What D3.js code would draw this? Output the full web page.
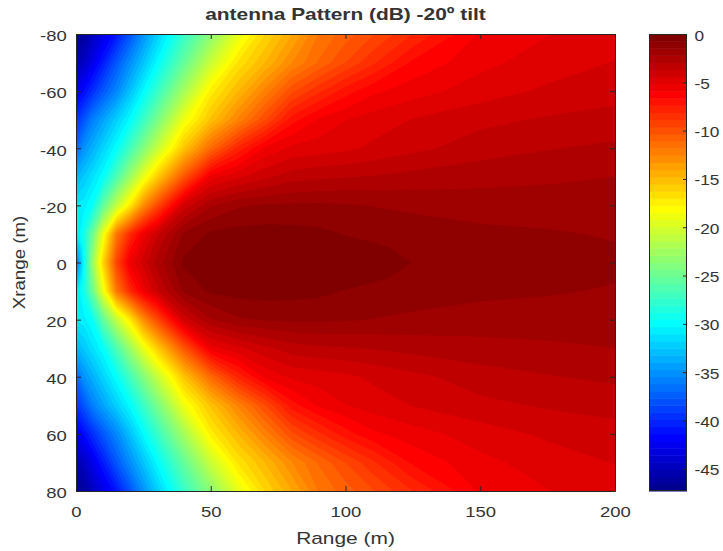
<!DOCTYPE html>
<html>
<head>
<meta charset="utf-8">
<script src="https://cdn.jsdelivr.net/npm/d3@7"></script>
<style>
  body { margin: 0; background: #fff; }
  text { font-family: "Liberation Sans", Arial, Helvetica, sans-serif; fill: #333; }
  .axis path, .axis line { stroke: #262626; }
</style>
</head>
<body>
<script>
// grid: columns = Range (m), rows = Xrange (m), values in dB
var rangeCols = [0, 3, 6, 10, 15, 20, 25, 30, 40, 50, 60, 70, 80, 90, 100, 110, 125, 150, 175, 200];
var xrangeRows = [-80, -70, -60, -50, -40, -30, -20, -10, -5, 0, 5, 10, 20, 30, 40, 50, 60, 70, 80];

var dbAtM80 = [-47.0,-46.2,-44.8,-43.0,-40.8,-38.0,-35.0,-32.3,-27.5,-23.5,-19.3,-16.3,-14.1,-11.8,-10.7,-9.7,-8.1,-5.8,-5.2,-4.7];
var dbAtM70 = [-45.5,-44.5,-42.8,-40.6,-37.8,-35.2,-32.7,-30.1,-25.3,-20.6,-16.9,-14.8,-12.6,-11.0,-9.6,-8.3,-6.5,-5.4,-4.8,-4.4];
var dbAtM60 = [-42.5,-41.3,-39.8,-37.8,-35.5,-32.8,-30.1,-27.5,-22.3,-17.4,-14.8,-12.3,-9.8,-8.3,-7.0,-6.1,-5.5,-4.8,-4.3,-4.0];
var dbAtM50 = [-39.5,-37.8,-35.9,-34.2,-32.1,-30.0,-27.3,-24.5,-18.8,-15.3,-12.4,-9.7,-7.0,-5.8,-5.2,-4.8,-4.4,-3.9,-3.6,-3.4];
var dbAtM40 = [-37.0,-34.9,-33.6,-31.9,-29.8,-26.9,-23.9,-20.9,-15.4,-11.1,-7.9,-5.75,-5.0,-4.8,-4.6,-4.3,-3.9,-3.3,-3.0,-2.8];
var dbAtM30 = [-33.5,-32.4,-31.3,-29.8,-26.4,-22.8,-19.1,-15.9,-10.2,-5.5,-4.6,-3.9,-3.3,-3.1,-3.0,-2.9,-2.7,-2.5,-2.35,-2.22];
var dbAtM20 = [-31.0,-30.6,-29.6,-25.5,-21.0,-17.2,-12.8,-9.7,-4.2,-2.3,-1.6,-1.4,-1.35,-1.35,-1.4,-1.5,-1.65,-1.8,-1.85,-1.9];
var dbAtM10 = [-31.5,-28.8,-25.0,-19.0,-11.8,-8.2,-5.6,-3.9,-1.3,-0.6,-0.45,-0.4,-0.45,-0.55,-0.78,-0.9,-1.05,-1.3,-1.4,-1.55];
var dbAtM5  = [-34.3,-29.2,-24.0,-17.6,-10.6,-6.8,-4.8,-3.2,-0.9,-0.4,-0.25,-0.2,-0.22,-0.3,-0.45,-0.62,-0.88,-1.15,-1.3,-1.42];
var dbAt0   = [-37.0,-29.6,-23.0,-16.3,-9.5,-5.6,-4.1,-2.7,-0.6,-0.3,-0.15,-0.05,-0.05,-0.1,-0.2,-0.4,-0.76,-1.05,-1.2,-1.3];
var dbAtP5  = [-34.3,-29.2,-24.0,-17.6,-10.6,-6.8,-4.8,-3.2,-0.9,-0.4,-0.25,-0.2,-0.22,-0.3,-0.45,-0.62,-0.88,-1.15,-1.3,-1.42];
var dbAtP10 = [-31.5,-28.8,-25.0,-19.0,-11.8,-8.2,-5.6,-3.9,-1.3,-0.6,-0.45,-0.4,-0.45,-0.55,-0.78,-0.9,-1.05,-1.3,-1.4,-1.55];
var dbAtP20 = [-31.0,-30.6,-29.6,-25.5,-21.0,-17.2,-12.8,-9.7,-4.2,-2.3,-1.6,-1.4,-1.35,-1.35,-1.4,-1.5,-1.65,-1.8,-1.85,-1.9];
var dbAtP30 = [-33.5,-32.4,-31.3,-29.8,-26.4,-22.8,-19.1,-15.9,-10.2,-5.5,-4.6,-3.9,-3.3,-3.1,-3.0,-2.9,-2.7,-2.5,-2.35,-2.22];
var dbAtP40 = [-37.0,-34.9,-33.6,-31.9,-29.8,-26.9,-23.9,-20.9,-15.4,-11.1,-7.9,-5.75,-5.0,-4.8,-4.6,-4.3,-3.9,-3.3,-3.0,-2.8];
var dbAtP50 = [-39.5,-37.8,-35.9,-34.2,-32.1,-30.0,-27.3,-24.5,-18.8,-15.3,-12.4,-9.7,-7.0,-5.8,-5.2,-4.8,-4.4,-3.9,-3.6,-3.4];
var dbAtP60 = [-42.5,-41.3,-39.8,-37.8,-35.5,-32.8,-30.1,-27.5,-22.3,-17.4,-14.8,-12.3,-9.8,-8.3,-7.0,-6.1,-5.5,-4.8,-4.3,-4.0];
var dbAtP70 = [-45.5,-44.5,-42.8,-40.6,-37.8,-35.2,-32.7,-30.1,-25.3,-20.6,-16.9,-14.8,-12.6,-11.0,-9.6,-8.3,-6.5,-5.4,-4.8,-4.4];
var dbAtP80 = [-47.0,-46.2,-44.8,-43.0,-40.8,-38.0,-35.0,-32.3,-27.5,-23.5,-19.3,-16.3,-14.1,-11.8,-10.7,-9.7,-8.1,-5.8,-5.2,-4.7];

var xTicks = [0, 50, 100, 150, 200];
var yTicks = [-80, -60, -40, -20, 0, 20, 40, 60, 80];
var cTicks = [0, -5, -10, -15, -20, -25, -30, -35, -40, -45];
var cLimits = [-47.3, 0];
var nColors = 64;

var titleText = "antenna Pattern (dB) -20º tilt";
var xLabel = "Range (m)";
var yLabel = "Xrange (m)";

// layout
var w = 723, h = 551;
var plot = {left: 76, right: 615, top: 34, bottom: 491};
var cbar = {left: 649, right: 687};
var stretch = 1.23; // text in the picture is drawn wide

var dbRows = [dbAtM80, dbAtM70, dbAtM60, dbAtM50, dbAtM40, dbAtM30, dbAtM20, dbAtM10, dbAtM5, dbAt0,
              dbAtP5, dbAtP10, dbAtP20, dbAtP30, dbAtP40, dbAtP50, dbAtP60, dbAtP70, dbAtP80];
var nx = rangeCols.length, ny = xrangeRows.length;
var values = [].concat.apply([], dbRows);

// matlab jet(m)
function jetMap(m) {
  var n = Math.ceil(m / 4), u = [], i;
  for (i = 1; i <= n; i++) u.push(i / n);
  for (i = 0; i < n - 1; i++) u.push(1);
  for (i = n; i >= 1; i--) u.push(i / n);
  var g0 = Math.ceil(n / 2) - (m % 4 === 1 ? 1 : 0);
  var J = d3.range(m).map(function() { return [0, 0, 0]; });
  u.forEach(function(v, k) {
    var g = g0 + k + 1, r = g + n, b = g - n;
    if (g <= m) J[g - 1][1] = v;
    if (r <= m) J[r - 1][0] = v;
    if (b >= 1) J[b - 1][2] = v;
  });
  return J.map(function(c) { return d3.rgb(c[0] * 255, c[1] * 255, c[2] * 255).formatHex(); });
}
var colors = jetMap(nColors);
var step = (cLimits[1] - cLimits[0]) / nColors;
var thresholds = d3.range(1, nColors).map(function(k) { return cLimits[0] + k * step; });
var plain = function(d) { return String(d); };

var svg = d3.select("body").append("svg")
    .attr("width", w)
    .attr("height", h);

// scales
var x = d3.scaleLinear().domain([0, 200]).range([plot.left, plot.right]);
var y = d3.scaleLinear().domain([-80, 80]).range([plot.top, plot.bottom]);
var colIdx = d3.scaleLinear().domain(d3.range(nx)).range(rangeCols);
var rowIdx = d3.scaleLinear().domain(d3.range(ny)).range(xrangeRows);
var cy = d3.scaleLinear().domain(cLimits).range([plot.bottom, plot.top]);

svg.append("clipPath").attr("id", "plotClip")
  .append("rect")
    .attr("x", plot.left).attr("y", plot.top)
    .attr("width", plot.right - plot.left)
    .attr("height", plot.bottom - plot.top);

// contour grid coords -> data coords -> pixels
var proj = d3.geoTransform({
  point: function(px, py) {
    var i = Math.max(0, Math.min(nx - 1, px - 0.5));
    var j = Math.max(0, Math.min(ny - 1, py - 0.5));
    this.stream.point(x(colIdx(i)), y(rowIdx(j)));
  }
});
var path = d3.geoPath(proj);

var bands = d3.contours().size([nx, ny]).thresholds(thresholds)(values);

var heat = svg.append("g").attr("clip-path", "url(#plotClip)");
heat.append("rect")
    .attr("x", plot.left).attr("y", plot.top)
    .attr("width", plot.right - plot.left)
    .attr("height", plot.bottom - plot.top)
    .attr("fill", colors[0]);
heat.selectAll("path")
    .data(bands)
  .enter().append("path")
    .attr("d", path)
    .attr("fill", function(d, i) { return colors[i + 1]; });

// axes (ticks point inward, box on)
svg.append("g")
    .attr("class", "axis")
    .attr("transform", "translate(0," + plot.bottom + ")")
    .call(d3.axisBottom(x).tickValues(xTicks).tickFormat(plain).tickSize(-5).tickSizeOuter(0).tickPadding(15))
    .call(function(g) {
      g.selectAll("text").attr("transform", "scale(" + stretch + ",1)")
        .style("font-size", "15px").attr("fill", "#333");
    });

svg.append("g")
    .attr("class", "axis")
    .attr("transform", "translate(" + plot.left + ",0)")
    .call(d3.axisLeft(y).tickValues(yTicks).tickFormat(plain).tickSize(-5).tickSizeOuter(0).tickPadding(7.6))
    .call(function(g) {
      g.selectAll("text").attr("transform", "scale(" + stretch + ",1)")
        .attr("dy", "0.45em").style("font-size", "15px").attr("fill", "#333");
    });

svg.append("g")
    .attr("class", "axis")
    .attr("transform", "translate(0," + plot.top + ")")
    .call(d3.axisTop(x).tickValues(xTicks).tickSize(-5).tickSizeOuter(0).tickFormat(""));

svg.append("g")
    .attr("class", "axis")
    .attr("transform", "translate(" + plot.right + ",0)")
    .call(d3.axisRight(y).tickValues(yTicks).tickSize(-5).tickSizeOuter(0).tickFormat(""));

// colorbar
var cbarG = svg.append("g");
cbarG.selectAll("rect")
    .data(d3.range(nColors))
  .enter().append("rect")
    .attr("x", cbar.left)
    .attr("width", cbar.right - cbar.left)
    .attr("y", function(k) { return cy(cLimits[0] + (k + 1) * step); })
    .attr("height", function(k) { return cy(cLimits[0] + k * step) - cy(cLimits[0] + (k + 1) * step) + 0.5; })
    .attr("fill", function(k) { return colors[k]; });

cbarG.append("rect")
    .attr("x", cbar.left + 0.5).attr("y", plot.top + 0.5)
    .attr("width", cbar.right - cbar.left - 1)
    .attr("height", plot.bottom - plot.top - 1)
    .attr("fill", "none")
    .attr("stroke", "#262626");

svg.append("g")
    .attr("class", "axis")
    .attr("transform", "translate(" + cbar.right + ",0)")
    .call(d3.axisRight(cy).tickValues(cTicks).tickFormat(plain).tickSize(-4).tickSizeOuter(0).tickPadding(6.5))
    .call(function(g) {
      g.select(".domain").remove();
      g.selectAll("text").attr("transform", "scale(1.15,1)")
        .attr("dy", "0.4em").style("font-size", "15px").attr("fill", "#333");
    });

// labels
svg.append("text")
    .attr("transform", "translate(" + ((plot.left + plot.right) / 2) + ",20) scale(" + stretch + ",1)")
    .attr("text-anchor", "middle")
    .style("font-size", "17px")
    .style("font-weight", "bold")
    .attr("fill", "#111")
    .text(titleText);

svg.append("text")
    .attr("transform", "translate(" + ((plot.left + plot.right) / 2) + ",544) scale(" + stretch + ",1)")
    .attr("text-anchor", "middle")
    .style("font-size", "17px")
    .text(xLabel);

svg.append("text")
    .attr("transform", "translate(25," + ((plot.top + plot.bottom) / 2) + ") rotate(-90) scale(1.1,1)")
    .attr("text-anchor", "middle")
    .style("font-size", "17px")
    .text(yLabel);
</script>
</body>
</html>
